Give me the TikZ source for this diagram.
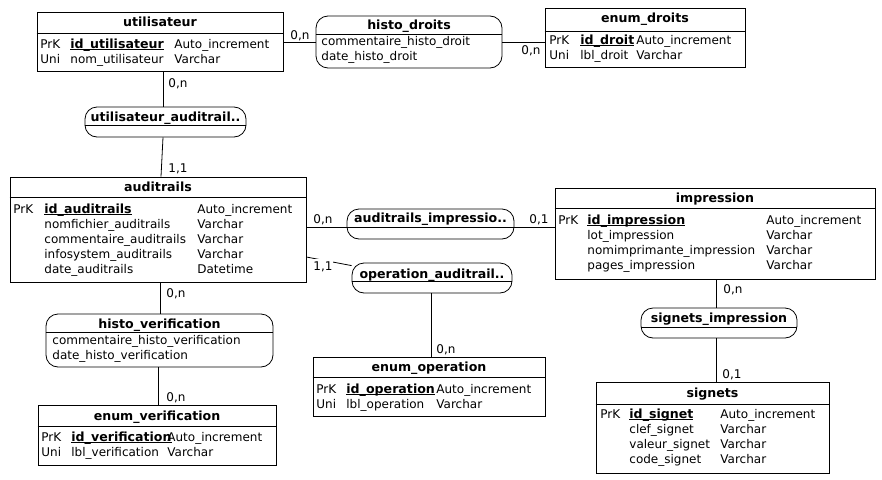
\documentclass[tikz,border=0pt]{standalone}
\usepackage{fontspec}
\setmainfont{DejaVu Sans}
\usepackage{tikz}
\usetikzlibrary{
	calc,
	positioning
}

% soulignement des cles primaires
\newcommand{\souligne}[1]{\setbox0\hbox{#1}\rlap{\rule[-2.2pt]{\wd0}{1.3pt}}\box0}

\tikzset{
	entite/.style={draw, rectangle, inner sep=0pt},
	assoc/.style={draw, rectangle, rounded corners=12pt, inner sep=0pt},
	titre/.style={font=\fontsize{12.6}{14}\selectfont\bfseries, inner sep=0pt, text height=10pt, text depth=2pt},
	champ/.style={anchor=west, inner sep=0pt, text height=10pt, text depth=2pt},
	cle/.style={champ, font=\fontsize{12.6}{14}\selectfont\bfseries},
	card/.style={anchor=west, inner sep=0pt, text height=10pt, text depth=2pt}
}

\begin{document}
\begin{tikzpicture}[x=1pt, y=-1pt, line width=0.8pt,
		every node/.append style={font=\fontsize{12}{14}\selectfont}]
		\useasboundingbox (0,0) rectangle (882,479);
		% utilisateur
		\node[entite, minimum width=246pt, minimum height=59pt] (util) at (160,41.5) {};
		\node[titre] (util-t) at (160,22) {utilisateur};
		\draw (util.west |- 0,33) -- (util.east |- 0,33);
		\node[champ] (util-k1) at (40,44) {PrK};
		\node[cle] (util-c1) at (70,44) {\souligne{id\_utilisateur}};
		\node[champ] (util-y1) at (174,44) {Auto\_increment};
		\node[champ] (util-k2) at (40,59) {Uni};
		\node[champ] (util-c2) at (70,59) {nom\_utilisateur};
		\node[champ] (util-y2) at (174,59) {Varchar};
		% histo_droits
		\node[assoc, minimum width=186pt, minimum height=52pt] (hdroits) at (409,42) {};
		\node[titre] (hdroits-t) at (409,25) {histo\_droits};
		\draw (hdroits.west |- 0,34) -- (hdroits.east |- 0,34);
		\node[champ] (hdroits-c1) at (321,41) {commentaire\_histo\_droit};
		\node[champ] (hdroits-c2) at (321,56) {date\_histo\_droit};
		% enum_droits
		\node[entite, minimum width=200pt, minimum height=59pt] (edroits) at (645,37.5) {};
		\node[titre] (edroits-t) at (645,18) {enum\_droits};
		\draw (edroits.west |- 0,31) -- (edroits.east |- 0,31);
		\node[champ] (edroits-k1) at (549,40) {PrK};
		\node[cle] (edroits-c1) at (580,40) {\souligne{id\_droit}};
		\node[champ] (edroits-y1) at (636,40) {Auto\_increment};
		\node[champ] (edroits-k2) at (549,55) {Uni};
		\node[champ] (edroits-c2) at (580,55) {lbl\_droit};
		\node[champ] (edroits-y2) at (636,55) {Varchar};
		% utilisateur_auditrails
		\node[assoc, minimum width=161pt, minimum height=30pt] (uaud) at (165.5,122) {};
		\node[titre] (uaud-t) at (165.5,117) {utilisateur\_auditrail..};
		\draw (uaud.west |- 0,125) -- (uaud.east |- 0,125);
		% auditrails
		\node[entite, minimum width=296pt, minimum height=105pt] (audit) at (158,229.5) {};
		\node[titre] (audit-t) at (158,187) {auditrails};
		\draw (audit.west |- 0,197) -- (audit.east |- 0,197);
		\node[champ] (audit-k1) at (13,209) {PrK};
		\node[cle] (audit-c1) at (44,209) {\souligne{id\_auditrails}};
		\node[champ] (audit-c2) at (44,224) {nomfichier\_auditrails};
		\node[champ] (audit-c3) at (44,239) {commentaire\_auditrails};
		\node[champ] (audit-c4) at (44,254) {infosystem\_auditrails};
		\node[champ] (audit-c5) at (44,269) {date\_auditrails};
		\node[champ] (audit-y1) at (197,209) {Auto\_increment};
		\node[champ] (audit-y2) at (197,224) {Varchar};
		\node[champ] (audit-y3) at (197,239) {Varchar};
		\node[champ] (audit-y4) at (197,254) {Varchar};
		\node[champ] (audit-y5) at (197,269) {Datetime};
		% auditrails_impression
		\node[assoc, minimum width=167pt, minimum height=30pt] (audimp) at (430.5,224) {};
		\node[titre] (audimp-t) at (430.5,218) {auditrails\_impressio..};
		\coordinate (audimp-d) at (430.5,227);
		\draw (audimp.west |- audimp-d) -- (audimp.east |- audimp-d);
		% operation_auditrails
		\node[assoc, minimum width=160pt, minimum height=30pt] (opaud) at (432,278) {};
		\node[titre] (opaud-t) at (432,274) {operation\_auditrail..};
		\draw (opaud.west |- 0,281) -- (opaud.east |- 0,281);
		% enum_operation
		\node[entite, minimum width=232pt, minimum height=59pt] (eop) at (429,386.5) {};
		\node[titre] (eop-t) at (429,367) {enum\_operation};
		\draw (eop.west |- 0,377) -- (eop.east |- 0,377);
		\node[champ] (eop-k1) at (316,389) {PrK};
		\node[cle] (eop-c1) at (346,389) {\souligne{id\_operation}};
		\node[champ] (eop-y1) at (436,389) {Auto\_increment};
		\node[champ] (eop-k2) at (316,404) {Uni};
		\node[champ] (eop-c2) at (346,404) {lbl\_operation};
		\node[champ] (eop-y2) at (436,404) {Varchar};
		% impression
		\node[entite, minimum width=320pt, minimum height=91pt] (impr) at (715,233.5) {};
		\node[titre] (impr-t) at (715,198) {impression};
		\draw (impr.west |- 0,208) -- (impr.east |- 0,208);
		\node[champ] (impr-k1) at (558,220) {PrK};
		\node[cle] (impr-c1) at (587,220) {\souligne{id\_impression}};
		\node[champ] (impr-c2) at (587,235) {lot\_impression};
		\node[champ] (impr-c3) at (587,250) {nomimprimante\_impression};
		\node[champ] (impr-c4) at (587,265) {pages\_impression};
		\node[champ] (impr-y1) at (766,220) {Auto\_increment};
		\node[champ] (impr-y2) at (766,235) {Varchar};
		\node[champ] (impr-y3) at (766,250) {Varchar};
		\node[champ] (impr-y4) at (766,265) {Varchar};
		% signets_impression
		\node[assoc, minimum width=156pt, minimum height=30pt] (sigimp) at (719,323) {};
		\node[titre] (sigimp-t) at (719,318) {signets\_impression};
		\draw (sigimp.west |- 0,327) -- (sigimp.east |- 0,327);
		% signets
		\node[entite, minimum width=233pt, minimum height=91pt] (sig) at (712.5,427.5) {};
		\node[titre] (sig-t) at (712.5,393) {signets};
		\draw (sig.west |- 0,404) -- (sig.east |- 0,404);
		\node[champ] (sig-k1) at (600,414) {PrK};
		\node[cle] (sig-c1) at (629,414) {\souligne{id\_signet}};
		\node[champ] (sig-c2) at (629,429) {clef\_signet};
		\node[champ] (sig-c3) at (629,444) {valeur\_signet};
		\node[champ] (sig-c4) at (629,459) {code\_signet};
		\node[champ] (sig-y1) at (720,414) {Auto\_increment};
		\node[champ] (sig-y2) at (720,429) {Varchar};
		\node[champ] (sig-y3) at (720,444) {Varchar};
		\node[champ] (sig-y4) at (720,459) {Varchar};
		% histo_verification
		\node[assoc, minimum width=227pt, minimum height=53pt] (hverif) at (159.5,340.5) {};
		\node[titre] (hverif-t) at (159.5,324) {histo\_verification};
		\draw (hverif.west |- 0,332) -- (hverif.east |- 0,332);
		\node[champ] (hverif-c1) at (52,340) {commentaire\_histo\_verification};
		\node[champ] (hverif-c2) at (52,355) {date\_histo\_verification};
		% enum_verification
		\node[entite, minimum width=238pt, minimum height=60pt] (everif) at (157,435) {};
		\node[titre] (everif-t) at (157,416) {enum\_verification};
		\draw (everif.west |- 0,426) -- (everif.east |- 0,426);
		\node[champ] (everif-k1) at (41,437) {PrK};
		\node[cle] (everif-c1) at (71,437) {\souligne{id\_verification}};
		\node[champ] (everif-y1) at (167,437) {Auto\_increment};
		\node[champ] (everif-k2) at (41,452) {Uni};
		\node[champ] (everif-c2) at (71,452) {lbl\_verification};
		\node[champ] (everif-y2) at (167,452) {Varchar};

		% liens
		\draw (hdroits.west -| util.east) -- (hdroits.west);
		\draw (hdroits.east) -- (hdroits.east -| edroits.west);
		\draw ([xshift=3pt]util.south) -- ([xshift=-2.5pt]uaud.north);
		\draw ([xshift=-2.5pt]uaud.south) -- ([xshift=3pt]audit.north);
		\draw (audit.east |- audimp-d) -- (audimp.west |- audimp-d);
		\draw (audimp.east |- audimp-d) -- (impr.west |- audimp-d);
		\draw ([yshift=-27.5pt]audit.east) -- ([yshift=-3pt]opaud.north west);
		\draw ([xshift=-1pt]opaud.south) -- ([xshift=2pt]eop.north);
		\draw ([xshift=1pt]impr.south) -- ([xshift=-3pt]sigimp.north);
		\draw ([xshift=-3pt]sigimp.south) -- ([xshift=3.5pt]sig.north);
		\draw ([xshift=2pt]audit.south) -- ([xshift=0.5pt]hverif.north);
		\draw ([xshift=-1.5pt]hverif.south) -- ([xshift=1pt]everif.north);

		% cardinalites
		\node[card] (c-util-hd) at (290,35) {0,n};
		\node[card] (c-ed-hd) at (521,50) {0,n};
		\node[card] (c-util-ua) at (168,83) {0,n};
		\node[card] (c-audit-ua) at (168,168) {1,1};
		\node[card] (c-audit-ai) at (313,219) {0,n};
		\node[card] (c-impr-ai) at (529,219) {0,1};
		\node[card, fill=white, inner sep=1pt] (c-audit-oa) at (312,266) {1,1};
		\node[card] (c-eop-oa) at (436,349) {0,n};
		\node[card] (c-impr-si) at (723,289) {0,n};
		\node[card] (c-sig-si) at (722,374) {0,1};
		\node[card] (c-audit-hv) at (166,293) {0,n};
		\node[card] (c-ev-hv) at (166,397) {0,n};
	\end{tikzpicture}
\end{document}
